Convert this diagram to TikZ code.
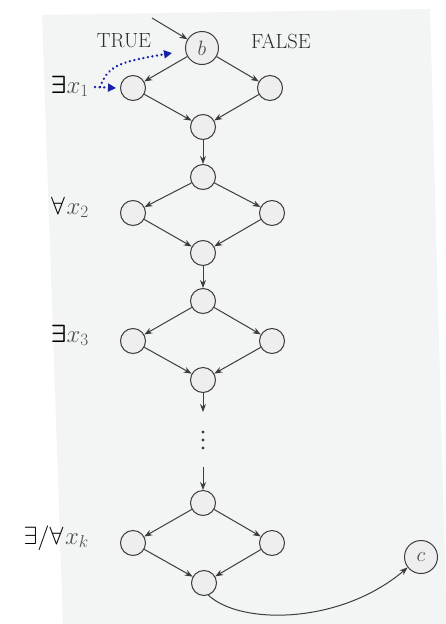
\documentclass[tikz,border=0pt]{standalone}
\usetikzlibrary{arrows.meta}
\definecolor{pagec}{RGB}{243,244,244}
\definecolor{edgec}{RGB}{60,60,60}
\definecolor{nodec}{RGB}{238,238,238}
\definecolor{txtc}{RGB}{45,45,45}
\definecolor{xg}{RGB}{80,80,80}
\definecolor{dotblue}{RGB}{20,35,170}
\begin{document}
\begin{tikzpicture}[x=1pt,y=-1pt,
  v/.style={circle, draw=edgec, fill=nodec, line width=1pt, minimum size=25pt, inner sep=0pt},
  bigv/.style={v, minimum size=33pt, text=xg, font=\fontsize{20}{22}\selectfont},
  e/.style={draw=edgec, line width=1pt, -{Stealth[length=8pt,width=6pt]}},
  bluearr/.style={draw=dotblue, line width=2.6pt, line cap=round, dash pattern=on 0.01pt off 4.6pt, -{Triangle[length=8pt,width=8pt]}},
  lab/.style={anchor=base east, inner sep=0pt},
  tf/.style={text=txtc, font=\fontsize{20.5}{22}\selectfont, inner sep=0pt}]
\useasboundingbox (0,0) rectangle (446,624);
\fill[white] (0,0) rectangle (446,624);
\fill[pagec] (42,15) -- (430,9) -- (446,600) -- (446,624) -- (63,624) -- cycle;

% nodes
\node[bigv] (b) at (202,48) {$b$};
\node[v] (L1) at (133,88) {};
\node[v] (R1) at (270,88) {};
\node[v] (B1) at (203,127) {};
\node[v] (T2) at (203,177) {};
\node[v] (L2) at (133,213) {};
\node[v] (R2) at (272,213) {};
\node[v] (B2) at (203,253) {};
\node[v] (T3) at (203,301) {};
\node[v] (L3) at (133,341) {};
\node[v] (R3) at (272,341) {};
\node[v] (B3) at (203,380) {};
\node[v] (T4) at (203,503) {};
\node[v] (L4) at (133,543) {};
\node[v] (R4) at (272,543) {};
\node[v] (B4) at (204,583) {};
\node[bigv] (c) at (421,557) {$c$};

% labels
\node[tf] (true) at (124,41) {TRUE};
\node[tf] (false) at (281,41) {FALSE};
\node[lab] (q1) at (89,93) {{\fontsize{30}{30}\selectfont\boldmath$\exists$}{\color{xg}\fontsize{26}{26}\selectfont$x_1$}};
\node[lab] (q2) at (89,214) {{\fontsize{28}{28}\selectfont$\forall$}\,{\color{xg}\fontsize{26}{26}\selectfont$x_2$}};
\node[lab] (q3) at (89,342) {{\fontsize{30}{30}\selectfont\boldmath$\exists$}{\color{xg}\fontsize{26}{26}\selectfont$x_3$}};
\node[lab] (qk) at (89,544) {{\fontsize{28}{28}\selectfont$\exists/\forall$}\,{\color{xg}\fontsize{26}{26}\selectfont$x_k$}};

% coordinates
\coordinate (in) at (152,18);
\coordinate (a1) at (203,412);
\coordinate (a2) at (203,467);
\coordinate (bs1) at (95,87);
\coordinate (bs2) at (100,87);
\coordinate (bt2) at (172,53);

% edges
\draw[e] (in) -- (b);
\foreach \t/\l/\r/\bb in {b/L1/R1/B1, T2/L2/R2/B2, T3/L3/R3/B3, T4/L4/R4/B4}{
  \draw[e] (\t) -- (\l);
  \draw[e] (\t) -- (\r);
  \draw[e] (\l) -- (\bb);
  \draw[e] (\r) -- (\bb);
}
\draw[e] (B1) -- (T2);
\draw[e] (B2) -- (T3);
\draw[e] (B3) -- (a1);
\draw[e] (a2) -- (T4);
\foreach \yy in {432,440,448} \fill[edgec] (203,\yy) circle (1.6);
\draw[e] (B4.-70) .. controls (240,625) and (340,625) .. (c.-142);

% blue dotted arrows
\draw[bluearr] (bs1) -- ([xshift=-4pt]L1.west);
\draw[bluearr] (bs2) .. controls (108,66) and (118,62) .. (bt2);
\end{tikzpicture}
\end{document}
